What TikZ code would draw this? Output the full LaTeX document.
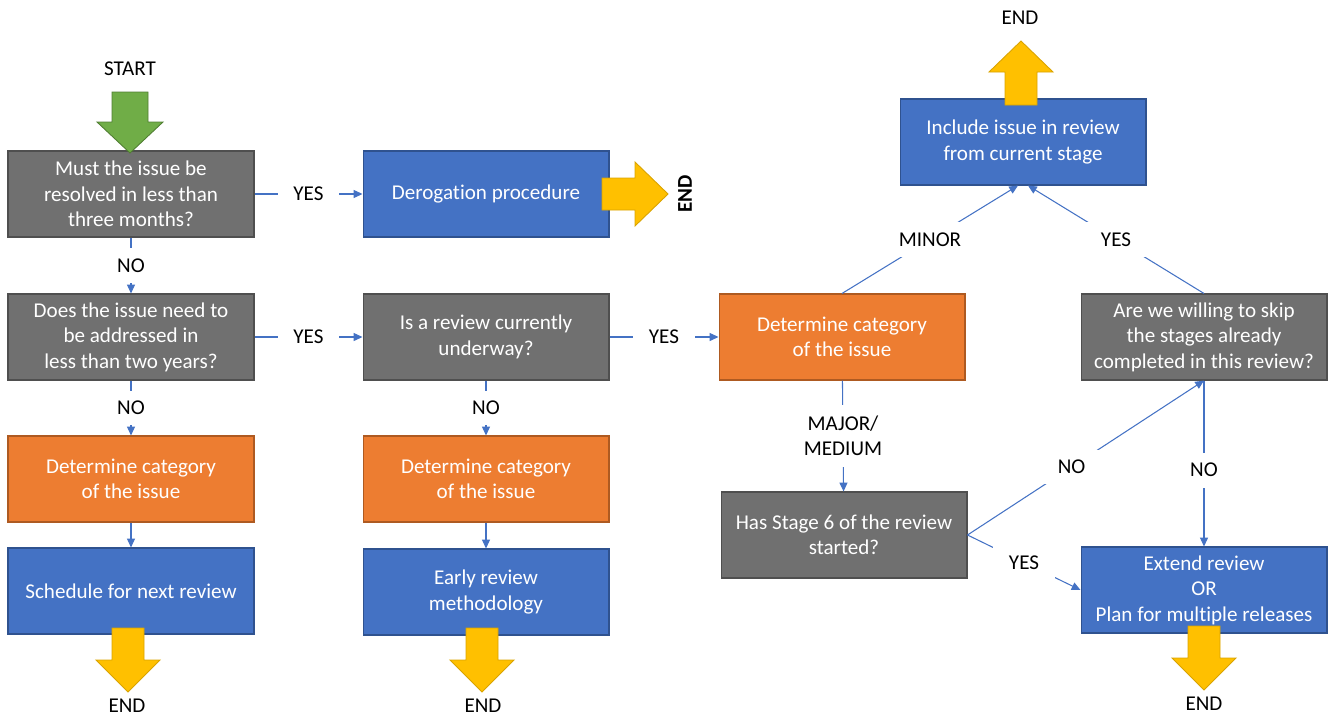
\documentclass[tikz,border=0pt]{standalone}
\usepackage{fontspec}
\setmainfont[Ligatures={CommonOff,ContextualOff}, Contextuals=AlternateOff]{Carlito}
\usetikzlibrary{positioning,arrows.meta}

\definecolor{boxgrey}{HTML}{707070}
\definecolor{greyline}{HTML}{4F4F4F}
\definecolor{boxblue}{HTML}{4472C4}
\definecolor{blueline}{HTML}{2F528F}
\definecolor{boxorange}{HTML}{ED7D31}
\definecolor{orangeline}{HTML}{AE5A21}
\definecolor{arrowyellow}{HTML}{FFC000}
\definecolor{yellowline}{HTML}{D9A300}
\definecolor{arrowgreen}{HTML}{70AD47}
\definecolor{greenline}{HTML}{507E32}
\definecolor{linkblue}{HTML}{4472C4}

\begin{document}
\begin{tikzpicture}[x=0.02cm, y=-0.02cm]

% Define styles
\tikzstyle{box} = [rectangle, line width=0.6pt, text=white, align=center, minimum width=4.92cm, minimum height=1.72cm, inner sep=2pt, font=\fontsize{12}{14.5}\selectfont]
\tikzstyle{question} = [box, fill=boxgrey, draw=greyline]
\tikzstyle{action} = [box, fill=boxblue, draw=blueline]
\tikzstyle{category} = [box, fill=boxorange, draw=orangeline]
\tikzstyle{link} = [draw=linkblue, line width=0.6pt, -{Triangle[length=5pt,width=4.5pt]}]
\tikzstyle{answer} = [fill=white, text=black, inner xsep=9pt, inner ysep=6pt, font=\fontsize{12}{14.5}\selectfont]
\tikzstyle{endlabel} = [text=black, font=\fontsize{12}{14.5}\selectfont]
\tikzstyle{endarrow} = [fill=arrowyellow, draw=yellowline, line width=0.5pt]
\tikzstyle{startarrow} = [fill=arrowgreen, draw=greenline, line width=0.5pt]

\useasboundingbox (0,0) rectangle (1336,717);

% Left column
\node [question] (must_resolve) at (131,194) {Must the issue be\\resolved in less than\\three months?};
\node [question] (need_address) at (131,337) {Does the issue need to\\be addressed in\\less than two years?};
\node [category] (category_left) at (131,479) {Determine category\\of the issue};
\node [action] (schedule) at (131,591) {Schedule for next review};

% Middle column
\node [action] (derogation) at (486,194) {Derogation procedure};
\node [question] (review_underway) at (486,337) {Is a review currently\\underway?};
\node [category] (category_mid) at (486,479) {Determine category\\of the issue};
\node [action] (early_review) at (486,592) {Early review\\methodology};

% Right part
\node [action] (include_issue) at (1023,142) {Include issue in review\\from current stage};
\node [category] (category_right) at (842,337) {Determine category\\of the issue};
\node [question] (skip_stages) at (1204,337) {Are we willing to skip\\the stages already\\completed in this review?};
\node [question] (stage_six) at (844,535) {Has Stage 6 of the review\\started?};
\node [action] (extend_review) at (1204,590) {Extend review\\OR\\Plan for multiple releases};

% Connections
\draw [link] (must_resolve) -- node [answer] {YES} (derogation);
\draw [link] (must_resolve) -- node [answer] {NO} (need_address);
\draw [link] (need_address) -- node [answer] {YES} (review_underway);
\draw [link] (need_address) -- node [answer] {NO} (category_left);
\draw [link] (category_left) -- (schedule);
\draw [link] (review_underway) -- node [answer] {YES} (category_right);
\draw [link] (review_underway) -- node [answer] {NO} (category_mid);
\draw [link] (category_mid) -- (early_review);
\draw [link] (category_right.north) -- node [answer] {MINOR} ([xshift=-0.1cm]include_issue.south);
\draw [link] (skip_stages.north) -- node [answer] {YES} ([xshift=0.1cm]include_issue.south);
\draw [link] (category_right) -- node [answer, align=center] {MAJOR/\\MEDIUM} (stage_six);
\draw [link] (stage_six.east) -- node [answer, pos=0.44] {NO} (skip_stages.south);
\draw [link] (stage_six.east) -- node [answer] {YES} (extend_review.west);
\draw [link] (skip_stages) -- node [answer, pos=0.54] {NO} (extend_review);

% Start and end arrows
\filldraw [startarrow] (112,92) -- (148,92) -- (148,122) -- (163,122) -- (130,153) -- (97,122) -- (112,122) -- cycle;
\filldraw [endarrow] (602,178) -- (635,178) -- (635,162) -- (668,194) -- (635,226) -- (635,210) -- (602,210) -- cycle;
\filldraw [endarrow] (1005,105) -- (1005,72) -- (989,72) -- (1021,41) -- (1053,72) -- (1037,72) -- (1037,105) -- cycle;
\foreach \cx/\ty in {128/628, 482/628, 1204/626}
  \filldraw [endarrow] (\cx-16,\ty) -- (\cx+16,\ty) -- (\cx+16,\ty+32) -- (\cx+32,\ty+32) -- (\cx,\ty+64) -- (\cx-32,\ty+32) -- (\cx-16,\ty+32) -- cycle;

% Start and end labels
\node [endlabel] (start) at (130,69) {START};
\node [endlabel, rotate=90, font=\fontsize{12}{14.5}\selectfont\bfseries] (end_derogation) at (685,194) {END};
\node [endlabel] (end_include) at (1020,18) {END};
\node [endlabel] (end_schedule) at (127,706) {END};
\node [endlabel] (end_early) at (483,706) {END};
\node [endlabel] (end_extend) at (1204,704) {END};

\end{tikzpicture}
\end{document}
